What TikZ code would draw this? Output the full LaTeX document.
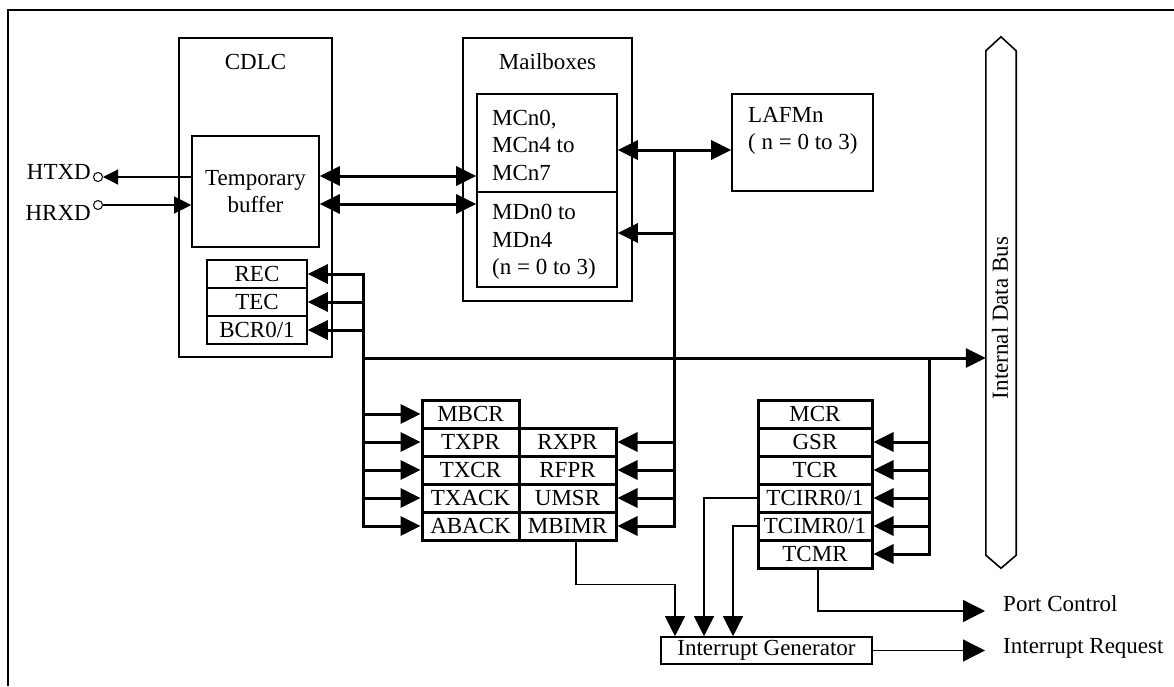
\documentclass[tikz,border=0pt]{standalone}
\usepackage{fontspec}
\setmainfont{Liberation Serif}
\usetikzlibrary{arrows.meta,calc}
\tikzset{
  bigT/.tip={Triangle[length=20pt,width=19pt]},
  midT/.tip={Triangle[length=20pt,width=20pt]},
  smlT/.tip={Triangle[length=15pt,width=15pt]},
  thk/.style={line width=3pt},
  thn/.style={line width=1.2pt},
  thinbox/.style={draw, line width=1.6pt, inner sep=0pt},
  regbox/.style={draw, line width=3pt, inner sep=0pt, minimum height=28pt},
  txt/.style={inner sep=0pt},
}
\begin{document}
\begin{tikzpicture}[x=1pt,y=-1pt,font=\fontsize{23}{27.5}\selectfont]
\useasboundingbox (0,0) rectangle (1174,686);
% frame
\draw[line width=1.5pt] (8,686) -- (8,10) -- (1174,10);

% CDLC
\node[thinbox, minimum width=153pt, minimum height=319pt] (cdlc) at (255.5,197.5) {};
\node[txt] (cdlclbl) at (255.5,62) {CDLC};
\node[thinbox, minimum width=127pt, minimum height=111pt, align=center] (buf) at (255.5,191.5) {Temporary\\buffer};
\node[thinbox, minimum width=100pt, minimum height=28pt] (rec) at (257,274) {REC};
\node[thinbox, minimum width=100pt, minimum height=28pt] (tec) at (257,302) {TEC};
\node[thinbox, minimum width=100pt, minimum height=28pt] (bcr) at (257,330) {BCR0/1};

% HTXD / HRXD
\node[draw, circle, line width=1pt, minimum size=9pt, inner sep=0pt] (htxdc) at (98,177) {};
\node[draw, circle, line width=1pt, minimum size=9pt, inner sep=0pt] (hrxdc) at (98,205) {};
\node[txt, anchor=east] (htxd) at (91,172) {HTXD};
\node[txt, anchor=east] (hrxd) at (91,213) {HRXD};

% Mailboxes
\node[thinbox, minimum width=169pt, minimum height=263pt] (mbx) at (547.5,169.5) {};
\node[txt] (mbxlbl) at (547.5,62) {Mailboxes};
\node[thinbox, minimum width=140pt, minimum height=98pt] (mc) at (547,143) {};
\node[thinbox, minimum width=140pt, minimum height=95pt] (md) at (547,239.5) {};
\node[txt, anchor=west, align=left] (mctxt) at (492,145) {MCn0,\\MCn4 to\\MCn7};
\node[txt, anchor=west, align=left] (mdtxt) at (492,242) {MDn0 to\\MDn4\\(n = 0 to 3)};

% LAFMn
\node[thinbox, minimum width=141pt, minimum height=97pt] (laf) at (802.5,142.5) {};
\node[txt, anchor=west, align=left] (laftxt) at (748,131) {LAFMn\\( n = 0 to 3)};

% Internal data bus
\node[minimum width=30pt, minimum height=531pt, inner sep=0pt] (bus) at (1001,302.5) {};
\draw[line width=1.6pt] (bus.north) -- ($(bus.north east)+(0,14)$) -- ($(bus.south east)+(0,-13)$)
  -- (bus.south) -- ($(bus.south west)+(0,-13)$) -- ($(bus.north west)+(0,14)$) -- cycle;
\node[txt, rotate=90] (buslbl) at (1000,318) {Internal Data Bus};

% left register block
\foreach \n/\t/\y in {mbcr/MBCR/414, txpr/TXPR/442, txcr/TXCR/470, txack/TXACK/498, aback/ABACK/526}
  \node[regbox, minimum width=97pt] (\n) at (470.5,\y) {\t};
\foreach \n/\t/\y in {rxpr/RXPR/442, rfpr/RFPR/470, umsr/UMSR/498, mbimr/MBIMR/526}
  \node[regbox, minimum width=97pt] (\n) at (567.5,\y) {\t};

% right register block
\foreach \n/\t/\y in {mcr/MCR/414, gsr/GSR/442, tcr/TCR/470, tcirr/TCIRR0\slash 1/498, tcimr/TCIMR0\slash 1/526, tcmr/TCMR/554}
  \node[regbox, minimum width=114pt] (\n) at (815,\y) {\t};

% interrupt generator
\node[thinbox, minimum width=211pt, minimum height=27pt] (ig) at (766.5,650.5) {Interrupt Generator};

% trunk coordinates
\coordinate (tL) at (363,358);
\coordinate (tM) at (674,358);
\coordinate (tR) at (929,358);
\coordinate (ig1) at ([xshift=-91.5pt]ig.north);
\coordinate (ig2) at ([xshift=-62.5pt]ig.north);
\coordinate (ig3) at ([xshift=-33.5pt]ig.north);
\coordinate (pc) at (985,611);
\coordinate (ir) at (985,651);

% thick connectors
\draw[thk, bigT-bigT] ([yshift=15.5pt]buf.east) coordinate (a1) -- (a1 -| mc.west);
\draw[thk, bigT-bigT] ([yshift=-12.5pt]buf.east) coordinate (a2) -- (a2 -| md.west);
\draw[thk, bigT-bigT] ([yshift=-7pt]mc.east) coordinate (a3) -- (a3 -| laf.west);
\draw[thk, line cap=rect] (a3 -| tM) -- (tM |- mbimr.east);
\coordinate (a4) at ([yshift=6.5pt]md.east);
\draw[thk, -bigT] (a4 -| tM) -- (a4);
\draw[thk, -bigT] (tL) -- (tL -| bus.west);
\draw[thk, line cap=rect] (tL |- rec.east) -- (tL |- aback.west);
\draw[thk, line cap=rect] (tR) -- (tR |- tcmr.east);
\foreach \n in {rec,tec,bcr} \draw[thk, -bigT] (tL |- \n.east) -- (\n.east);
\foreach \n in {mbcr,txpr,txcr,txack,aback} \draw[thk, -bigT] (tL |- \n.west) -- (\n.west);
\foreach \n in {rxpr,rfpr,umsr,mbimr} \draw[thk, -bigT] (tM |- \n.east) -- (\n.east);
\foreach \n in {gsr,tcr,tcirr,tcimr,tcmr} \draw[thk, -bigT] (tR |- \n.east) -- (\n.east);

% thin connectors
\draw[thn, -smlT] (buf.west |- htxdc) -- (htxdc.east);
\draw[thn, -{Triangle[length=17pt,width=17pt]}] (hrxdc.east) -- (hrxdc -| buf.west);
\draw[thn, -midT] ([xshift=8.5pt]mbimr.south) -- ++(0,43) -| (ig1);
\draw[thn, -midT] (tcirr.west) -| (ig2);
\draw[thn, -midT] (tcimr.west) -| (ig3);
\draw[thn, -{Triangle[length=22pt,width=22pt]}] ([xshift=3pt]tcmr.south) |- (pc);
\draw[thn, -{Triangle[length=22pt,width=22pt]}] (ig.east) -- (ig.east -| ir);

\node[txt, anchor=base west] (pctxt) at (1003,611) {Port Control};
\node[txt, anchor=base west] (irtxt) at (1003,653) {Interrupt Request};
\end{tikzpicture}
\end{document}
